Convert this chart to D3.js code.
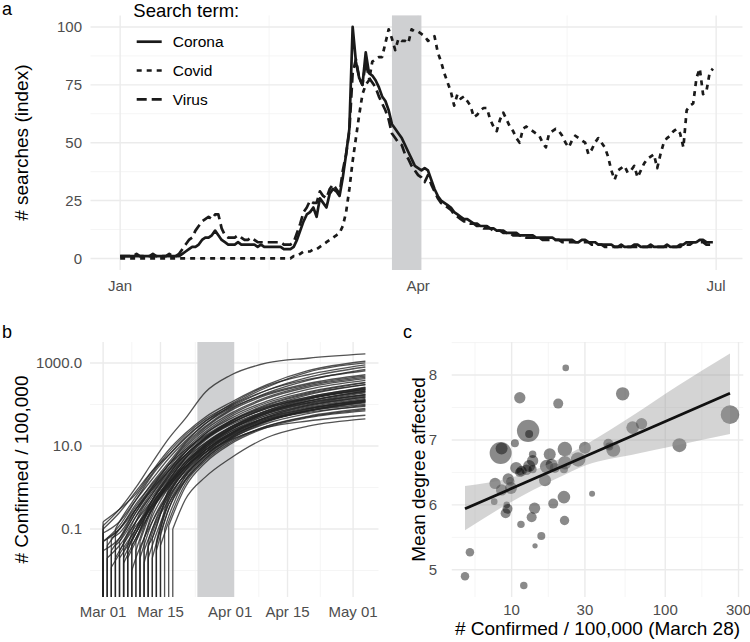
<!DOCTYPE html>
<html><head><meta charset="utf-8">
<script src="https://cdn.jsdelivr.net/npm/d3@7"></script>
<style>
body{margin:0;background:#fff}
svg{display:block}
text{font-family:"Liberation Sans",Arial,Helvetica,sans-serif}
</style>
</head><body>
<svg id="chart" width="750" height="642"></svg>
<script>
// ================= DATA =================
// Panel a: Google search interest (index), daily from Jan 1, 2020
const searchStart = "2020-01-01";
const searchTerms = ["Corona", "Covid", "Virus"];
const corona = [
 1,1,1,1,1,1,1,1,1,1,1,1,1,1,1,1,1,1,1,
 2,3,4,5,5,6,8,9,9,10,12,
 10,8,7,6,6,6,7,6,6,6,
 6,6,5,6,5,5,5,5,5,5,
 4,4,4,5,8,12,16,19,20,22,
 18,26,24,22,28,30,29,27,35,45,
 56,100,85,78,75,89,80,79,77,74,
 70,68,64,58,56,54,52,49,46,43,
 40,39,38,39,38,34,30,27,25,24,
 23,22,20,19,18,17,17,16,15,15,
 14,14,14,13,13,12,12,12,11,11,
 11,11,10,10,10,10,10,9,9,9,
 9,9,9,8,8,8,8,8,8,7,
 7,8,8,7,7,7,6,6,6,6,
 6,5,5,6,5,5,5,6,6,5,
 5,5,6,5,5,5,5,6,5,5,
 5,6,6,7,7,7,7,8,8,7,
 7,7];
const covid = [
 0,0,0,0,0,0,0,0,0,0,0,0,0,0,0,0,0,0,0,0,
 0,0,0,0,0,0,0,0,0,0,0,0,0,0,0,0,0,0,0,0,
 0,0,0,0,0,0,0,0,0,0,0,0,0,
 1,1,2,3,3,3,4,
 4,5,6,7,8,9,10,11,14,20,
 30,42,52,62,71,75,77,85,86,87,
 87,93,99,95,90,95,94,94,93,99,
 98,98,97,96,94,95,96,89,85,80,
 76,72,66,71,69,70,68,66,61,62,
 64,65,65,60,57,55,60,63,60,57,
 55,52,50,56,57,56,55,54,53,50,
 48,54,55,56,55,53,50,48,51,53,
 52,51,50,45,47,50,52,50,48,44,
 38,34,38,39,40,37,38,40,35,38,
 41,43,44,45,39,45,50,52,53,55,
 56,54,48,64,66,67,78,82,71,72,
 80,82];
const virus = [
 1,1,1,1,1,2,1,1,1,1,2,1,1,1,1,2,1,1,2,
 4,6,8,9,12,14,16,17,18,17,19,
 19,13,10,9,9,9,10,9,8,8,
 9,8,7,7,7,7,7,7,7,7,
 6,6,6,7,11,15,20,22,25,24,
 24,29,27,26,30,32,30,28,38,45,
 55,80,86,78,75,85,78,76,74,70,
 67,64,60,54,52,50,49,45,43,40,
 38,36,35,33,36,32,29,26,24,23,
 22,21,19,18,17,16,16,15,15,14,
 14,13,13,13,12,12,12,11,11,11,
 10,10,10,10,9,9,9,9,9,8,
 8,8,8,8,8,7,7,7,7,7,
 7,7,7,7,6,6,6,6,5,5,
 5,5,5,5,5,5,5,5,5,5,
 5,5,5,5,5,5,5,5,5,5,
 5,5,6,6,6,7,7,7,7,6,
 6,6];
const aTickDates = ["2020-01-01", "2020-04-01", "2020-07-01"];
const aTickLabels = ["Jan", "Apr", "Jul"];
const aYTicks = [0, 25, 50, 75, 100];
const highlightPeriod = ["2020-03-24", "2020-04-02"];

// Panel b: confirmed cases per 100,000 by region (log scale)
const bOrigin = "2020-03-01";
const bLastDay = 64;                       // May 4
const bDays = [4, 8, 12, 16, 20, 25, 31, 40, 50, 64];   // days after Mar 1
const bStart = [0,0,0,0,1,2,3,2,0,3, 4,5,5,6,6,7,7,8,4,5, 9,9,10,10,11,11,12,12,13,13, 14,14,15,16,17,0,1,2,4,6, 8,10,3,0,1,9,7,11,13,5];
const bFirst = [0.12,0.1,0.05,0.03,0.02,0.06,0.04,0.012,0.08,0.02, 0.03,0.015,0.05,0.02,0.03,0.04,0.01,0.03,0.02,0.03,
  0.02,0.05,0.03,0.015,0.04,0.02,0.06,0.02,0.05,0.03, 0.08,0.04,0.1,0.12,0.1,0.05,0.04,0.03,0.05,0.04,
  0.05,0.06,0.1,0.15,0.06,0.03,0.05,0.05,0.04,0.02];
const bValues = [
 [0.3,1.0,4,15,45,200,500,1000,1300,1650],
 [0.25,0.8,2.5,6,15,40,100,280,520,900],
 [0.1,0.4,1.2,3.5,8,18,40,90,150,260],
 [0.06,0.25,0.9,2.5,6,15,32,70,120,200],
 [0.04,0.15,0.5,1.8,5,12,28,65,110,170],
 [0.08,0.3,1.0,3,9,25,60,150,280,450],
 [0.05,0.2,0.7,2.2,6,16,35,80,140,230],
 [0.025,0.1,0.4,1.3,4,10,22,48,80,120],
 [0.15,0.5,1.6,5,13,35,80,180,320,520],
 [0.03,0.12,0.35,1.1,3,8,18,40,70,110],
 [null,0.15,0.6,2,6,15,35,80,150,250],
 [null,0.06,0.3,1.2,3.5,9,20,45,70,100],
 [null,0.2,0.8,2.5,7,20,45,110,200,340],
 [null,0.05,0.3,1.0,3,8,19,42,65,90],
 [null,0.1,0.5,1.6,4.5,12,28,65,120,210],
 [null,0.06,0.4,1.4,4,11,25,55,95,150],
 [null,0.02,0.15,0.7,2.5,7,17,40,70,115],
 [null,null,0.35,1.2,3.5,10,24,60,110,190],
 [null,0.08,0.4,1.5,5,14,34,85,170,300],
 [null,0.1,0.45,1.3,3.2,7,14,28,40,55],
 [null,null,0.15,0.8,2.8,8,20,48,85,140],
 [null,null,0.3,1.1,3.5,10,25,62,120,210],
 [null,null,0.1,0.6,2,6,15,35,60,95],
 [null,null,0.08,0.5,2.2,7,18,45,80,130],
 [null,null,0.06,0.9,3,9,22,55,100,170],
 [null,null,0.04,0.4,1.5,5,13,30,50,75],
 [null,null,null,0.7,2.5,8,20,50,95,160],
 [null,null,null,0.4,1.8,6,16,40,72,120],
 [null,null,null,0.6,2.6,9,24,65,130,240],
 [null,null,null,0.3,1.4,5,14,38,70,115],
 [null,null,null,0.3,1.8,6,16,42,78,130],
 [null,null,null,0.15,1.2,4.5,12,30,52,80],
 [null,null,null,0.2,1.5,5.5,15,40,75,125],
 [null,null,null,null,1.0,4,11,28,48,70],
 [null,null,null,null,0.5,1.8,5,16,30,45],
 [0.12,0.5,2,6,16,40,85,220,450,800],
 [0.1,0.35,1.3,4,12,35,90,220,400,650],
 [0.06,0.3,1.1,3.5,10,28,70,170,300,480],
 [null,0.25,1,3.5,11,30,75,190,380,700],
 [null,0.15,0.7,2.5,8,22,55,140,260,420],
 [null,null,0.5,2,7,20,50,120,230,380],
 [null,null,0.25,1.4,5,15,38,95,180,300],
 [0.15,0.6,2.2,7,18,45,95,260,600,1000],
 [0.3,0.7,2.5,8,20,50,110,300,650,1100],
 [0.1,0.3,0.9,2.8,7,17,38,85,140,220],
 [null,null,0.2,1,3.5,11,28,72,140,250],
 [null,0.08,0.5,1.8,5.5,16,40,100,190,330],
 [null,null,0.1,0.8,3,10,26,70,135,230],
 [null,null,null,0.5,2,7,19,50,90,150],
 [null,0.08,0.35,1.2,4,11,26,60,105,175]
];
const bTickDates = ["2020-03-01", "2020-03-15", "2020-04-01", "2020-04-15", "2020-05-01"];
const bTickLabels = ["Mar 01", "Mar 15", "Apr 01", "Apr 15", "May 01"];
const bYTicks = [0.1, 10, 1000];
const bYTickLabels = ["0.1", "10.0", "1000.0"];
const bYMinor = [0.01, 1, 100];
const bYDomain = [0.0023, 3200];

// Panel c: mean degree affected vs confirmed per 100,000 (March 28)
const cConfirmed = [4.97,5.35,12.0,14.2,15.6,11.5,13.5,14.1,9.14,9.4, 7.7,18.65,21.9,22.1,33.4,7.8,8.6,9.5,9.8,9.9,
  10.7,11.6,12.5,13.0,13.7,13.7,16.5,17.7,16.9,18.2, 19.1,21.9,22.2,22.2,27.1,30.0,42.6,43.2,45.9,61.3,
  70.1,123.7,264,52.8,20.1,22.5,11.3,12.8,13.0,8.48, 8.6,10.5,13.7,9.3,11.3];
const cDegree = [4.90,5.27,4.76,5.37,5.52,5.70,5.81,5.95,5.87,5.94, 6.05,6.02,6.12,5.76,6.17,6.33,6.23,6.40,6.36,6.26,
  6.57,6.52,6.54,6.60,6.68,6.78,6.38,6.78,6.59,6.62, 6.57,6.55,6.86,6.65,6.70,6.88,6.94,6.90,6.85,7.19,
  7.25,6.92,7.39,7.71,7.56,8.11,7.65,7.14,7.09,6.80, 6.87,6.95,6.55,6.00,6.50];
const cSize = [18,18,14,7,16,14,25,32,25,25, 11,25,40,22,9,32,32,32,18,36,
  36,28,28,36,32,14,36,36,45,36, 25,16,53,45,53,36,25,16,49,40,
  32,49,86,45,25,11,32,125,16,121, 36,16,16,11,22];
const cFitX = [4.97, 264];
const cFitY = [5.94, 7.72];
const cBandX = [4.97, 10, 19, 31, 60, 120, 264];
const cBandLo = [5.61, 6.05, 6.39, 6.62, 6.77, 6.92, 7.09];
const cBandHi = [6.29, 6.42, 6.67, 6.94, 7.36, 7.83, 8.33];
const cXTicks = [10, 30, 100, 300];
const cYTicks = [5, 6, 7, 8];

// ================= DRAWING =================
const parse = d3.utcParse("%Y-%m-%d");
const svg = d3.select("#chart");
const TICK = "#4d4d4d", GRID = "#ebebeb", GRID_MIN = "#f3f3f3";
const expand = ([a, b], f = 0.05) => [a - (b - a) * f, b + (b - a) * f];

function grid(g, xs, x0, x1, ys, y0, y1, color, w) {
  g.selectAll(null).data(xs).join("line")
    .attr("x1", d => d).attr("x2", d => d).attr("y1", y0).attr("y2", y1)
    .attr("stroke", color).attr("stroke-width", w);
  g.selectAll(null).data(ys).join("line")
    .attr("y1", d => d).attr("y2", d => d).attr("x1", x0).attr("x2", x1)
    .attr("stroke", color).attr("stroke-width", w);
}
const inside = (v, r) => v >= Math.min(...r) && v <= Math.max(...r);
const mid = (arr) => arr.slice(1).map((d, i) => (arr[i] + d) / 2);

// ---------- Panel a ----------
const aDates = corona.map((_, i) => d3.utcDay.offset(parse(searchStart), i));
const aExt = expand(d3.extent(aDates).map(Number));
const aX = d3.scaleUtc().domain(aExt.map(d => new Date(d))).range([90.5, 742.5]);
const aY = d3.scaleLinear().domain(expand([0, d3.max([...corona, ...covid, ...virus])])).range([270, 15.4]);
const ga = svg.append("g");
{
  const xr = aX.range(), yr = aY.range();
  const xMaj = aTickDates.map(d => aX(parse(d)));
  const xMin = mid(aTickDates.map(d => +parse(d))).map(d => aX(new Date(d))).filter(v => inside(v, xr));
  const yMin = mid(aYTicks).map(aY);
  grid(ga, xMin, xr[0], xr[1], yMin, yr[0], yr[1], GRID_MIN, 0.8);
  grid(ga, xMaj, xr[0], xr[1], aYTicks.map(aY), yr[0], yr[1], GRID, 1.4);
  ga.append("rect")
    .attr("x", aX(parse(highlightPeriod[0]))).attr("y", yr[1])
    .attr("width", aX(parse(highlightPeriod[1])) - aX(parse(highlightPeriod[0])))
    .attr("height", yr[0] - yr[1]).attr("fill", "#cfd0d2");
  const series = [corona, covid, virus];
  const dashes = [null, "5,5", "10,5"];
  const line = d3.line().x((d, i) => aX(aDates[i])).y(d => aY(d));
  series.forEach((s, k) => {
    ga.append("path").attr("d", line(s)).attr("fill", "none")
      .attr("stroke", "#1a1a1a").attr("stroke-width", 2.7)
      .attr("stroke-dasharray", dashes[k]).attr("stroke-linejoin", "round");
  });
  // axes text
  ga.selectAll(null).data(aYTicks).join("text")
    .attr("x", 82).attr("y", d => aY(d)).attr("dy", "0.35em")
    .attr("text-anchor", "end").attr("font-size", 15).attr("fill", TICK).text(d => d);
  ga.selectAll(null).data(aTickDates).join("text")
    .attr("x", d => aX(parse(d))).attr("y", 290.5)
    .attr("text-anchor", "middle").attr("font-size", 15).attr("fill", TICK)
    .text((d, i) => aTickLabels[i]);
  ga.append("text").attr("transform", `translate(21.7,${(yr[0] + yr[1]) / 2}) rotate(-90)`)
    .attr("dy", "0.35em").attr("text-anchor", "middle").attr("font-size", 19).text("# searches (index)");
  // legend
  ga.append("text").attr("x", 133.3).attr("y", 16.5).attr("font-size", 18.5).text("Search term:");
  searchTerms.forEach((t, k) => {
    const y = 41.7 + k * 28.8;
    ga.append("line").attr("x1", 136.7).attr("x2", 161.7).attr("y1", y).attr("y2", y)
      .attr("stroke", "#1a1a1a").attr("stroke-width", 2.7).attr("stroke-dasharray", dashes[k]);
    ga.append("text").attr("x", 172.7).attr("y", y).attr("dy", "0.36em")
      .attr("font-size", 15.5).text(t);
  });
  ga.append("text").attr("x", 2).attr("y", 14.5).attr("font-size", 18).text("a");
}

// ---------- Panel b ----------
const b0 = parse(bOrigin);
const bX = d3.scaleUtc().domain(expand([0, bLastDay]).map(d => new Date(+b0 + d * 864e5))).range([90, 378.5]);
const bY = d3.scaleLog().domain(bYDomain).range([597, 342]);
const gb = svg.append("g");
{
  const xr = bX.range(), yr = bY.range();
  const xMaj = bTickDates.map(d => bX(parse(d)));
  const xMin = mid(bTickDates.map(d => +parse(d))).map(d => bX(new Date(d)));
  grid(gb, xMin, xr[0], xr[1], bYMinor.map(bY), yr[0], yr[1], GRID_MIN, 0.8);
  grid(gb, xMaj, xr[0], xr[1], bYTicks.map(bY), yr[0], yr[1], GRID, 1.4);
  const dx = d => bX(new Date(+b0 + d * 864e5));
  gb.append("rect")
    .attr("x", bX(parse(highlightPeriod[0]))).attr("y", yr[1])
    .attr("width", bX(parse(highlightPeriod[1])) - bX(parse(highlightPeriod[0])))
    .attr("height", yr[0] - yr[1]).attr("fill", "#cfd0d2");
  const drop = d3.line();
  const curve = d3.line().x(d => dx(d[0])).y(d => bY(d[1])).curve(d3.curveMonotoneX);
  bValues.forEach((vals, i) => {
    const s = bStart[i];
    const pts = [[s, bFirst[i]]];
    bDays.forEach((d, j) => { if (d > s && vals[j] != null) pts.push([d, vals[j]]); });
    const path = drop([[dx(s), bY.range()[0]], [dx(s), bY(bFirst[i])]]) + curve(pts);
    gb.append("path").attr("d", path).attr("fill", "none")
      .attr("stroke", "#222").attr("stroke-opacity", 0.78).attr("stroke-width", 1.3)
      .attr("stroke-linejoin", "round");
  });
  gb.selectAll(null).data(bYTicks).join("text")
    .attr("x", 82).attr("y", d => bY(d)).attr("dy", "0.35em")
    .attr("text-anchor", "end").attr("font-size", 15).attr("fill", TICK)
    .text((d, i) => bYTickLabels[i]);
  gb.selectAll(null).data(bTickDates).join("text")
    .attr("x", d => bX(parse(d))).attr("y", 617)
    .attr("text-anchor", "middle").attr("font-size", 15).attr("fill", TICK)
    .text((d, i) => bTickLabels[i]);
  gb.append("text").attr("transform", `translate(21.7,${(yr[0] + yr[1]) / 2}) rotate(-90)`)
    .attr("dy", "0.35em").attr("text-anchor", "middle").attr("font-size", 19).text("# Confirmed / 100,000");
  gb.append("text").attr("x", 2).attr("y", 338).attr("font-size", 18).text("b");
}

// ---------- Panel c ----------
const cXExt = expand(d3.extent(cConfirmed).map(Math.log10)).map(v => Math.pow(10, v));
const cX = d3.scaleLog().domain(cXExt).range([451.75, 743.25]);
const cY = d3.scaleLinear().domain(expand([d3.min(cDegree), d3.max(cBandHi)])).range([597, 342]);
const cR = d3.scaleSqrt().domain([0, 100]).range([0, 10]);
const gc = svg.append("g");
{
  const xr = cX.range(), yr = cY.range();
  const lt = cXTicks.map(Math.log10);
  const xMinVals = [2 * lt[0] - lt[1], ...lt, 2 * lt[lt.length - 1] - lt[lt.length - 2]];
  const xMin = mid(xMinVals).map(v => cX(Math.pow(10, v))).filter(v => inside(v, xr));
  const yMinVals = mid([cYTicks[0] - 1, ...cYTicks, cYTicks[cYTicks.length - 1] + 1]).map(cY).filter(v => inside(v, yr));
  grid(gc, xMin, xr[0], xr[1], yMinVals, yr[0], yr[1], GRID_MIN, 0.8);
  grid(gc, cXTicks.map(cX).filter(v => inside(v, xr)), xr[0], xr[1], cYTicks.map(cY), yr[0], yr[1], GRID, 1.4);
  gc.selectAll(null).data(cConfirmed).join("circle")
    .attr("cx", d => cX(d)).attr("cy", (d, i) => cY(cDegree[i]))
    .attr("r", (d, i) => cR(cSize[i]))
    .attr("fill", "#000").attr("fill-opacity", 0.46);
  const area = d3.area().x((d, i) => cX(d)).y0((d, i) => cY(cBandLo[i])).y1((d, i) => cY(cBandHi[i]))
    .curve(d3.curveMonotoneX);
  gc.append("path").attr("d", area(cBandX)).attr("fill", "#999").attr("fill-opacity", 0.42);
  gc.append("path").attr("d", d3.line().x(d => cX(d)).y((d, i) => cY(cFitY[i]))(cFitX))
    .attr("stroke", "#111").attr("stroke-width", 2.8).attr("fill", "none");
  gc.selectAll(null).data(cYTicks).join("text")
    .attr("x", 437).attr("y", d => cY(d)).attr("dy", "0.35em")
    .attr("text-anchor", "end").attr("font-size", 15).attr("fill", TICK).text(d => d);
  gc.selectAll(null).data(cXTicks).join("text")
    .attr("x", d => cX(d)).attr("y", 615)
    .attr("text-anchor", "middle").attr("font-size", 15).attr("fill", TICK).text(d => d);
  gc.append("text").attr("transform", `translate(418.3,${(yr[0] + yr[1]) / 2}) rotate(-90)`)
    .attr("dy", "0.35em").attr("text-anchor", "middle").attr("font-size", 19).text("Mean degree affected");
  gc.append("text").attr("x", (xr[0] + xr[1]) / 2).attr("y", 635)
    .attr("text-anchor", "middle").attr("font-size", 19).text("# Confirmed / 100,000 (March 28)");
  gc.append("text").attr("x", 403).attr("y", 338).attr("font-size", 18).text("c");
}
</script>
</body></html>
